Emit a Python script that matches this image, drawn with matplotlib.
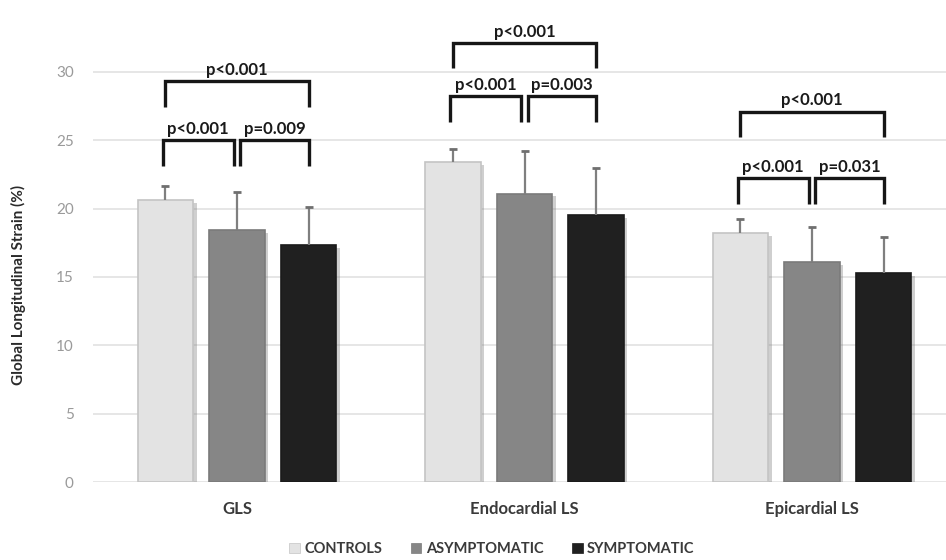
import numpy as np
import matplotlib
matplotlib.use("Agg")
from matplotlib import pyplot as plt
import matplotlib.patheffects as pe
from matplotlib.patches import Patch

plt.rcParams['font.family'] = ['Lato', 'DejaVu Sans']

categories = ["GLS", "Endocardial LS", "Epicardial LS"]
groups = ["CONTROLS", "ASYMPTOMATIC", "SYMPTOMATIC"]
means = {
    "CONTROLS": [20.6, 23.4, 18.2],
    "ASYMPTOMATIC": [18.4, 21.1, 16.1],
    "SYMPTOMATIC": [17.3, 19.5, 15.3],
}
sds = {
    "CONTROLS": [1.05, 0.95, 1.05],
    "ASYMPTOMATIC": [2.8, 3.1, 2.55],
    "SYMPTOMATIC": [2.8, 3.5, 2.6],
}
# p-values per category: (controls vs asym, asym vs symp, controls vs symp)
p_small_left = ["p<0.001", "p<0.001", "p<0.001"]
p_small_right = ["p=0.009", "p=0.003", "p=0.031"]
p_large = ["p<0.001", "p<0.001", "p<0.001"]

# bracket top levels (layout)
small_top = [25.0, 28.2, 22.2]
large_top = [29.3, 32.1, 27.1]
leg = 1.85

colors = {"CONTROLS": "#e3e3e3", "ASYMPTOMATIC": "#868686", "SYMPTOMATIC": "#202020"}
edges = {"CONTROLS": "#c4c4c4", "ASYMPTOMATIC": "#7a7a7a", "SYMPTOMATIC": "#1a1a1a"}

fig = plt.figure(figsize=(9.46, 5.6), dpi=100)
ax = fig.add_axes([93.25 / 946, 78 / 560, 862.5 / 946, 478.5 / 560])

x = np.arange(len(categories))
step = 0.249
width = 0.193
shadow = [pe.SimplePatchShadow(offset=(2.5, -2), shadow_rgbFace="#777777", alpha=0.35), pe.Normal()]

centers = []
for i, g in enumerate(groups):
    pos = x + (i - 1) * step
    centers.append(pos)
    bars = ax.bar(pos, means[g], width=width, color=colors[g], edgecolor=edges[g],
                  linewidth=1.2, zorder=3)
    for b in bars:
        b.set_path_effects(shadow)
    tops = np.array(means[g]) + np.array(sds[g])
    # upper-only error bar
    ax.vlines(pos, means[g], tops, color="#7f7f7f", linewidth=1.6, zorder=4)
    ax.plot(pos, tops, linestyle="none", marker="_", markersize=6, markeredgewidth=2,
            color="#6f6f6f", zorder=4)

bracket_kw = dict(color="#161616", lw=2.4, solid_joinstyle="miter", solid_capstyle="butt", zorder=5)
text_kw = dict(ha="center", va="bottom", fontsize=12, fontweight="bold", color="#1a1a1a")


def bracket(x0, x1, top, label):
    ax.plot([x0, x0, x1, x1], [top - leg, top, top, top - leg], clip_on=False, **bracket_kw)
    ax.text((x0 + x1) / 2, top + 0.25, label, clip_on=False, **text_kw)


gap = 0.012
for k in range(len(categories)):
    c0, c1, c2 = centers[0][k], centers[1][k], centers[2][k]
    bracket(c0 - 0.01, c1 - gap, small_top[k], p_small_left[k])
    bracket(c1 + gap, c2, small_top[k], p_small_right[k])
    bracket(c0, c2, large_top[k], p_large[k])

ax.set_xlim(-0.5, 2.5)
ax.set_ylim(0, 35)
ax.set_yticks([0, 5, 10, 15, 20, 25, 30])
ax.set_xticks(x)
ax.set_xticklabels(categories, fontsize=12, fontweight="bold", color="#3a3a3a")
ax.tick_params(axis="x", length=0, pad=14)
ax.tick_params(axis="y", length=0, pad=14, labelsize=11, labelcolor="#9a9a9a")
ax.yaxis.grid(True, color="#e2e2e2", linewidth=1.2, zorder=0)
ax.set_axisbelow(True)
for s in ax.spines.values():
    s.set_visible(False)

fig.text(18 / 946, 1 - 285 / 560, "Global Longitudinal Strain (%)", rotation=90,
         ha="center", va="center", fontsize=11, fontweight="bold", color="#2a2a2a")

handles = [Patch(facecolor=colors[g], edgecolor=edges[g], linewidth=0.5) for g in groups]
fig.legend(handles, groups, loc="center", bbox_to_anchor=(492 / 946, 1 - 549 / 560), ncol=3,
           frameon=False, handlelength=0.7, handleheight=0.7, handletextpad=0.3,
           columnspacing=2.0, prop={"weight": "bold", "size": 10.5}, labelcolor="#3a3a3a")

fig.savefig("out.png", dpi=100)
